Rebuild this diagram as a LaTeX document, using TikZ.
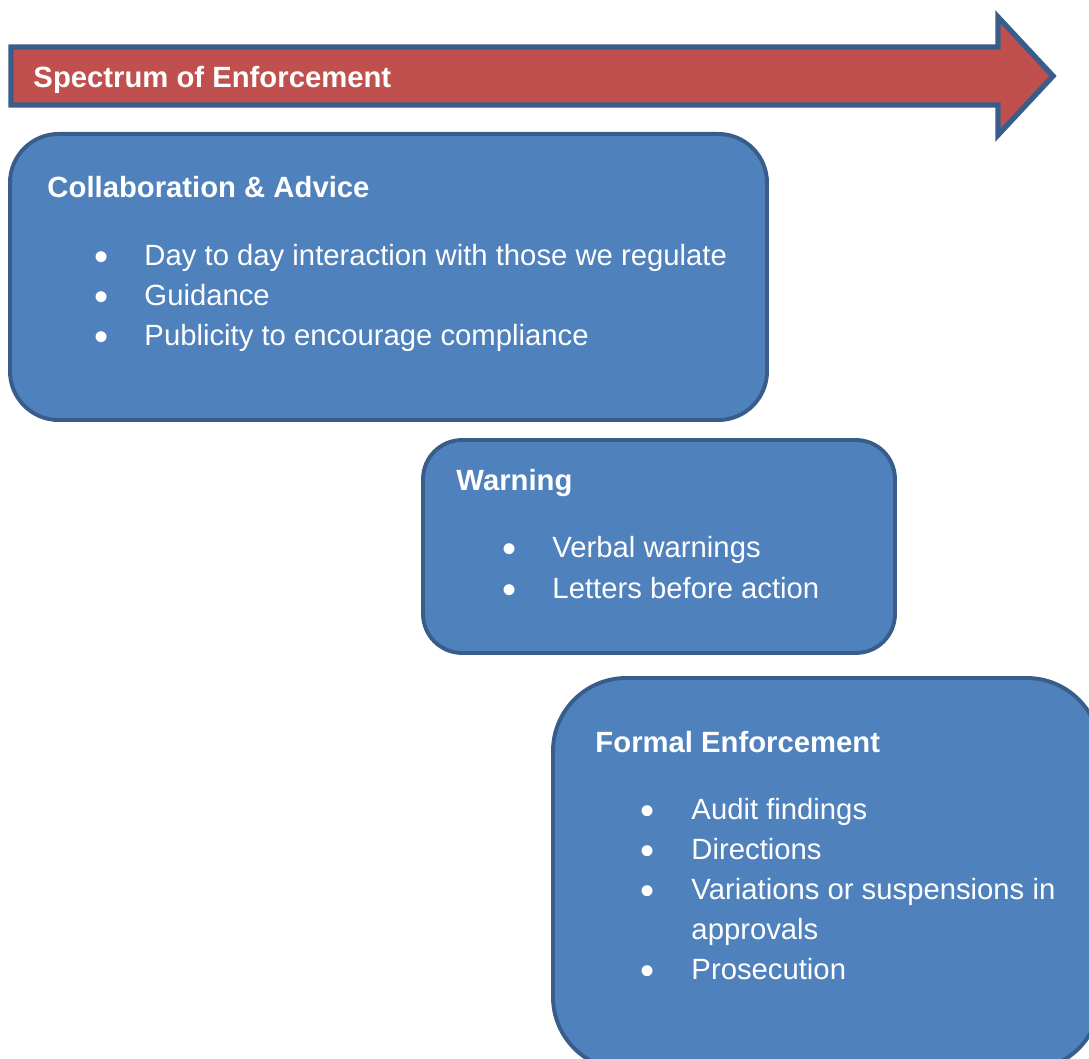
\documentclass[tikz,border=0pt]{standalone}
\usepackage{fontspec}
\setmainfont{Liberation Sans}
\usepackage{tikz}
\usetikzlibrary{shapes,arrows}
\definecolor{boxfill}{HTML}{4F81BD}
\definecolor{boxline}{HTML}{385D8A}
\definecolor{arrowfill}{HTML}{C0504D}
\tikzstyle{stage} = [rectangle, draw=boxline, fill=boxfill, line width=1.6pt]
\tikzstyle{heading} = [anchor=base west, inner sep=0pt, text=white,
    font=\fontsize{12}{16}\selectfont\bfseries]
\tikzstyle{entry} = [anchor=base west, inner sep=0pt, text=white,
    font=\fontsize{12}{16}\selectfont]
\tikzstyle{bullet} = [anchor=center, inner sep=0pt, text=white,
    font=\fontsize{16.5}{16}\selectfont]

\begin{document}
\begin{tikzpicture}[x=0.41pt, y=-0.41pt]
	\useasboundingbox (0,0) rectangle (1089,1059);
	\clip (0,0) rectangle (1089,1059);

	% Arrow
	\draw [fill=arrowfill, draw=boxline, line width=2.2pt]
		(11,47) -- (998,47) -- (998,17) -- (1053,76) -- (998,135) -- (998,105) -- (11,105) -- cycle;
	\node [heading] at (33,88) (spectrum) {Spectrum of Enforcement};

	% Place boxes
	\node [stage, rounded corners=20pt, minimum width=310.4pt, minimum height=117.3pt] at (388.5,277) (collab) {};
	\node [stage, rounded corners=16pt, minimum width=193.5pt, minimum height=87.3pt] at (659,546.5) (warning) {};
	\node [stage, rounded corners=30pt, minimum width=224.3pt, minimum height=160.7pt] at (826.5,874) (formal) {};

	% Collaboration & Advice
	\node [heading] at (47,198) (collabhead) {Collaboration \& Advice};
	\node [bullet] at (102,261.5) (cb1) {•};
	\node [entry] at (144,266) (ci1) {Day to day interaction with those we regulate};
	\node [bullet] at (102,301.5) (cb2) {•};
	\node [entry] at (144,306) (ci2) {Guidance};
	\node [bullet] at (102,341.5) (cb3) {•};
	\node [entry] at (144,346) (ci3) {Publicity to encourage compliance};

	% Warning
	\node [heading] at (456,491) (warnhead) {Warning};
	\node [bullet] at (510,553.5) (wb1) {•};
	\node [entry] at (552,558) (wi1) {Verbal warnings};
	\node [bullet] at (510,594.5) (wb2) {•};
	\node [entry] at (552,599) (wi2) {Letters before action};

	% Formal Enforcement
	\node [heading] at (595,753) (formalhead) {Formal Enforcement};
	\node [bullet] at (648,815.5) (fb1) {•};
	\node [entry] at (691,820) (fi1) {Audit findings};
	\node [bullet] at (648,855.5) (fb2) {•};
	\node [entry] at (691,860) (fi2) {Directions};
	\node [bullet] at (648,895.5) (fb3) {•};
	\node [entry] at (691,900) (fi3) {Variations or suspensions in};
	\node [entry] at (691,940) (fi4) {approvals};
	\node [bullet] at (648,975.5) (fb4) {•};
	\node [entry] at (691,980) (fi5) {Prosecution};
\end{tikzpicture}
\end{document}
